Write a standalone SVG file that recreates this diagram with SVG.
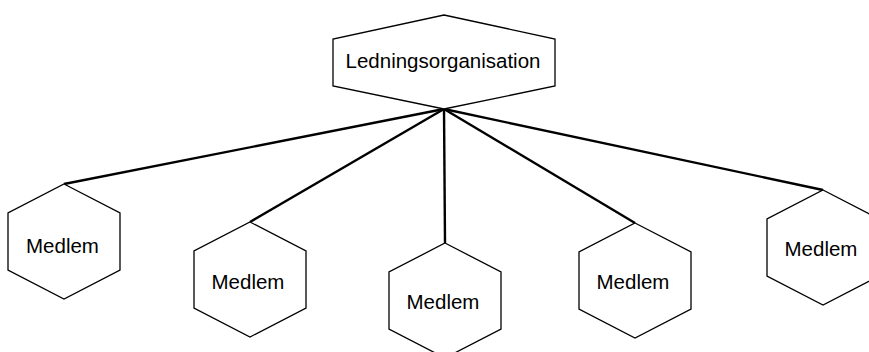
<svg xmlns="http://www.w3.org/2000/svg" xmlns:xlink="http://www.w3.org/1999/xlink" width="869" height="352" viewBox="0 0 869 352">
<style>
.hex{fill:#fff;stroke:#000;stroke-width:1.3;stroke-linejoin:miter}
.lbl{font-family:"Liberation Sans",Arial,sans-serif;font-size:20.5px;fill:#000;text-anchor:middle}
.con{stroke:#000;stroke-width:2.4;fill:none}
</style>
<defs>
<polygon id="hx" class="hex" points="0,0 56,29 56,86 0,115 -56,86 -56,29"/>
</defs>
<rect width="869" height="352" fill="#fff"/>
<g id="connectors">
<line class="con" x1="444" y1="109" x2="64" y2="184"/>
<line class="con" x1="444" y1="109" x2="250" y2="222"/>
<line class="con" x1="444" y1="109" x2="445" y2="243"/>
<line class="con" x1="444" y1="109" x2="635" y2="223"/>
<line class="con" x1="444" y1="109" x2="823" y2="190"/>
</g>
<g id="ledning">
<polygon class="hex" points="444,15 555,39 555,86 444,109 333,86 333,39"/>
<text class="lbl" x="443" y="68">Ledningsorganisation</text>
</g>
<g id="medlem1">
<use xlink:href="#hx" href="#hx" x="64" y="184"/>
<text class="lbl" x="62.5" y="253">Medlem</text>
</g>
<g id="medlem2">
<use xlink:href="#hx" href="#hx" x="250" y="222"/>
<text class="lbl" x="248" y="289">Medlem</text>
</g>
<g id="medlem3">
<use xlink:href="#hx" href="#hx" x="445" y="243"/>
<text class="lbl" x="443" y="309">Medlem</text>
</g>
<g id="medlem4">
<use xlink:href="#hx" href="#hx" x="635" y="223"/>
<text class="lbl" x="633" y="289">Medlem</text>
</g>
<g id="medlem5">
<use xlink:href="#hx" href="#hx" x="823" y="190"/>
<text class="lbl" x="821" y="256">Medlem</text>
</g>
</svg>
